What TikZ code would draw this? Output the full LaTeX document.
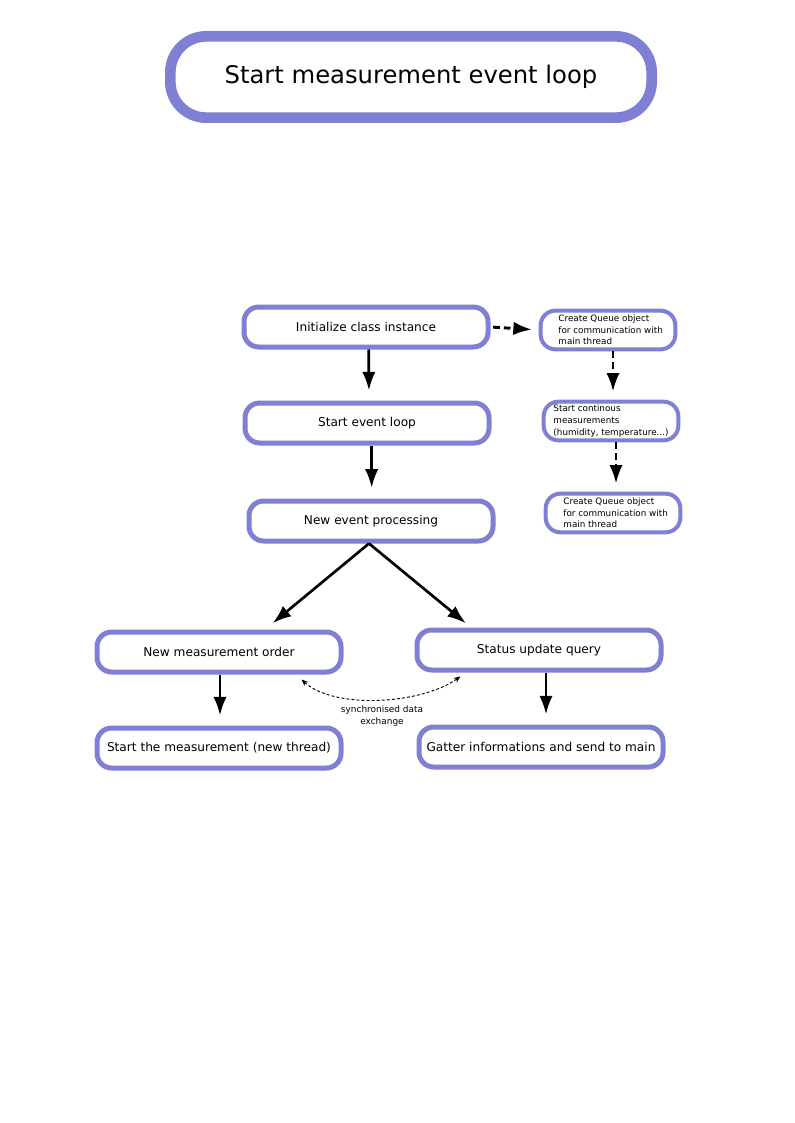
\documentclass[tikz,border=0pt]{standalone}
\usepackage{fontspec}
\setmainfont{DejaVu Sans}
\usepackage{tikz}
\usetikzlibrary{arrows.meta}

\definecolor{boxblue}{RGB}{127,127,212}

\begin{document}
\begin{tikzpicture}[
    x=0.75pt, y=-0.75pt,
    >=Latex,
    title/.style={draw=boxblue, line width=8pt, rounded corners=27pt, fill=white, align=center, minimum width=361pt, minimum height=61pt, font=\fontsize{18.2}{22}\selectfont},
    stepbox/.style={draw=boxblue, line width=3.75pt, rounded corners=11pt, fill=white, align=center, minimum width=183pt, minimum height=30pt, font=\fontsize{9.1}{11}\selectfont},
    sidebox/.style={draw=boxblue, line width=3pt, rounded corners=11pt, fill=white, align=left, minimum width=101pt, minimum height=29pt, inner sep=2pt, font=\fontsize{6.6}{8.75}\selectfont},
    flow/.style={-{Latex[length=14pt, width=10pt]}, line width=2pt},
    sideflow/.style={-{Latex[length=14pt, width=10pt]}, line width=2.2pt, dash pattern=on 5pt off 3pt},
    sync/.style={{Stealth[length=5pt, width=4pt]}-{Stealth[length=5pt, width=4pt]}, line width=0.7pt, dash pattern=on 2.2pt off 1.6pt},
    note/.style={align=center, font=\fontsize{6.7}{9}\selectfont}
]
\useasboundingbox (0,0) rectangle (794,1123);

% --------------------------------------------------------------------------
% Title
% --------------------------------------------------------------------------
\node[title] (loop) at (411,77) {Start measurement event loop};

% --------------------------------------------------------------------------
% Main sequence
% --------------------------------------------------------------------------
\node[stepbox] (init) at (366,327) {Initialize class instance};
\node[stepbox] (startloop) at (367,423) {Start event loop};
\node[stepbox] (newevent) at (371,521) {New event processing};

\node[stepbox] (neworder) at (219,652) {New measurement order};
\node[stepbox] (status) at (539,650) {Status update query};
\node[stepbox] (startmeas) at (219,748) {Start the measurement (new thread)};
\node[stepbox] (gatter) at (541,747) {Gatter informations and send to main};

\draw[flow, shorten >=7.5pt] ([xshift=2pt]init.south) -- ([xshift=1.5pt]startloop.north);
\draw[flow, shorten >=8pt] ([xshift=3.5pt]startloop.south) -- ([xshift=0.5pt]newevent.north);
\draw[flow, shorten >=7.5pt] ([xshift=-1.5pt]newevent.south) -- ([xshift=34.5pt]neworder.north);
\draw[flow, shorten >=5pt] ([xshift=-1.5pt]newevent.south) -- ([xshift=-51pt]status.north);
\draw[flow, shorten >=7.5pt] ([xshift=0.75pt]neworder.south) -- ([xshift=0.75pt]startmeas.north);
\draw[flow, shorten >=7.5pt] ([xshift=5.25pt]status.south) -- ([xshift=3.75pt]gatter.north);

% synchronised exchange between the two branches
\draw[sync] ([xshift=-31.5pt, yshift=-3.75pt]neworder.south east) .. controls +(24.75pt,-22.5pt) and +(-30pt,-21pt) .. ([xshift=34.5pt, yshift=-3pt]status.south west);
\node[note] (syncnote) at (382,716) {synchronised data\\exchange};

% --------------------------------------------------------------------------
% Side branch
% --------------------------------------------------------------------------
\node[sidebox] (queue) at (608,330) {\hspace*{4pt}Create Queue object\\\hspace*{4pt}for communication with\\\hspace*{4pt}main thread};
\node[sidebox] (contmeas) at (611,421) {Start continous\\measurements\\(humidity, temperature...)};
\node[sidebox] (queuemain) at (613,513) {\hspace*{4pt}Create Queue object\\\hspace*{4pt}for communication with\\\hspace*{4pt}main thread};

\draw[sideflow, shorten <=2pt, shorten >=5pt] (init.east) -- (queue.west);
\draw[sideflow, shorten >=6pt] ([xshift=3.75pt]queue.south) -- ([xshift=1.5pt]contmeas.north);
\draw[sideflow, shorten >=6pt] ([xshift=3.75pt]contmeas.south) -- ([xshift=2.25pt]queuemain.north);

\end{tikzpicture}
\end{document}
